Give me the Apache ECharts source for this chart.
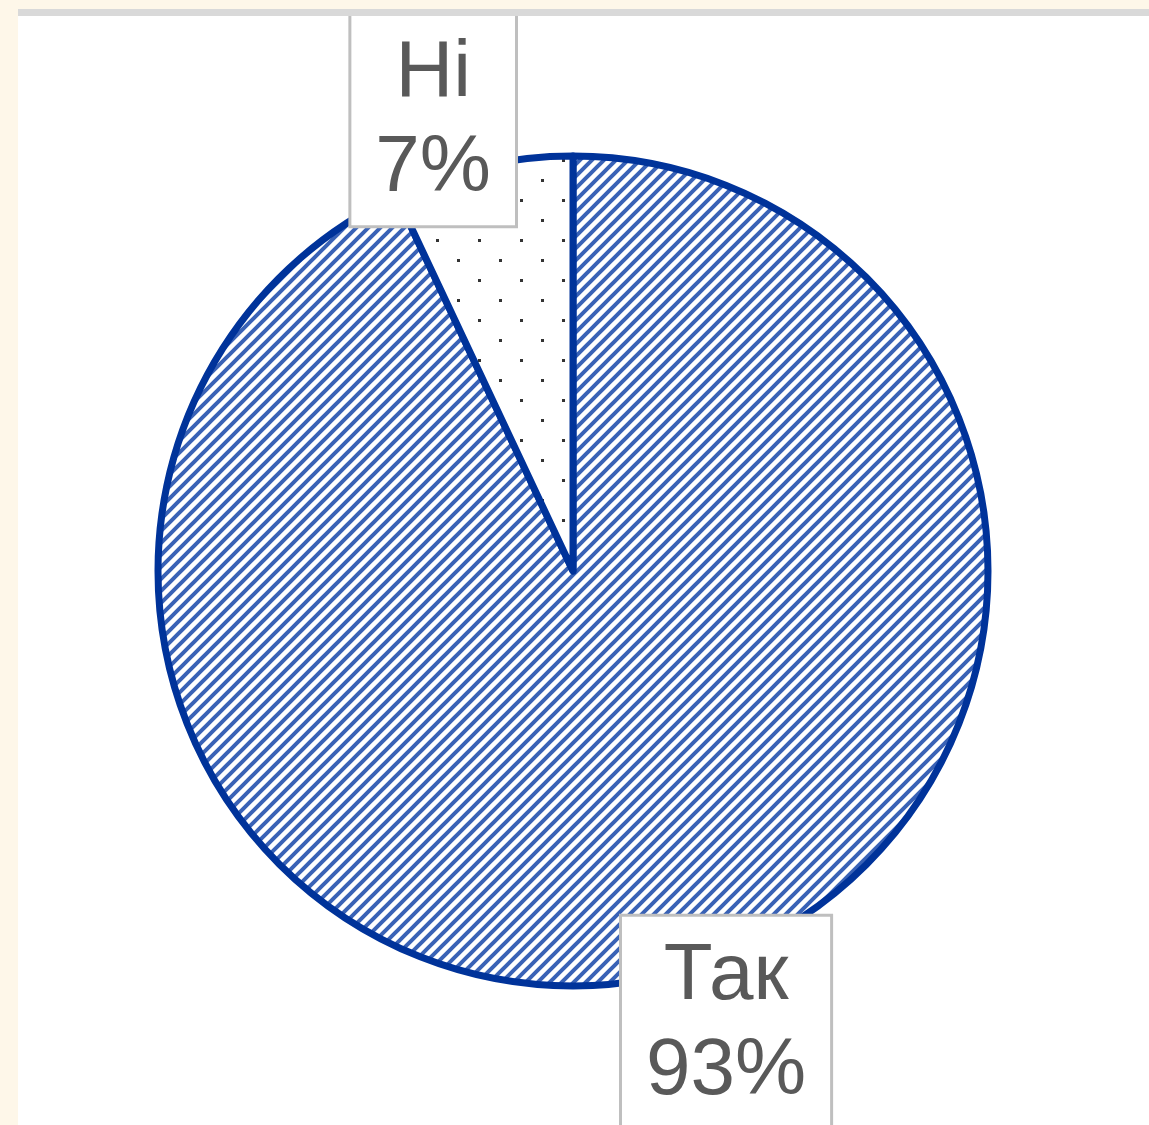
<!DOCTYPE html>
<html>
<head>
<meta charset="utf-8">
<title>Так / Ні</title>
<script src="https://cdn.jsdelivr.net/npm/echarts@6/dist/echarts.min.js"></script>
<style>
  html, body { margin: 0; padding: 0; width: 1149px; height: 1125px; overflow: hidden; background: #fef7e9; }
  #frame {
    position: absolute; left: 18px; top: 9px; width: 1131px; height: 1116px;
    box-sizing: border-box; border-top: 7px solid #d9d9d9; background: #fff; overflow: hidden;
  }
  /* chart is taller than the frame so the labels can run past the clipped edges */
  #chart { position: absolute; left: -18px; top: -116px; width: 1149px; height: 1325px; }
</style>
</head>
<body>
<div id="frame"><div id="chart"></div></div>
<script>
const categories = ['Так', 'Ні']
const shares = [93, 7]

// hatched fill: blue diagonal stripes on white
function stripePattern() {
  const s = 12
  const c = document.createElement('canvas')
  c.width = s
  c.height = s
  const ctx = c.getContext('2d')
  ctx.fillStyle = '#fff'
  ctx.fillRect(0, 0, s, s)
  ctx.strokeStyle = '#3962b6'
  ctx.lineWidth = 4
  ctx.beginPath()
  ctx.moveTo(0, s); ctx.lineTo(s, 0)
  ctx.moveTo(-3, 3); ctx.lineTo(3, -3)
  ctx.moveTo(s - 3, s + 3); ctx.lineTo(s + 3, s - 3)
  ctx.stroke()
  return c
}

// sparse staggered dots on white
function dotPattern() {
  const c = document.createElement('canvas')
  c.width = 42
  c.height = 40
  const ctx = c.getContext('2d')
  ctx.fillStyle = '#fff'
  ctx.fillRect(0, 0, 42, 40)
  ctx.fillStyle = '#333'
  ctx.fillRect(16, 19, 3, 3)
  ctx.fillRect(37, 0, 3, 2)
  ctx.fillRect(37, 39, 3, 1)
  return c
}

// per-slice look; labelLine lengths only steer where the (hidden-line) labels sit
const sliceStyles = [
  { fill: stripePattern(), labelLine: { show: false, length: 48, length2: -57 } },
  { fill: dotPattern(), labelLine: { show: false, length: 48, length2: -48 } },
]

const pieData = categories.map((name, i) => ({
  name: name,
  value: shares[i],
  itemStyle: { color: { image: sliceStyles[i].fill, repeat: 'repeat' } },
  labelLine: sliceStyles[i].labelLine,
}))

const chart = echarts.init(document.getElementById('chart'))

const labelText = {
  align: 'center',
  fontFamily: 'Liberation Sans, Arial, sans-serif',
  fontSize: 80,
  lineHeight: 95,
  color: '#595959',
}

const option = {
  animation: false,
  backgroundColor: 'transparent',
  series: [
    {
      type: 'pie',
      center: [573, 671],
      radius: [0, 415],
      startAngle: 90,
      clockwise: true,
      avoidLabelOverlap: false,
      itemStyle: {
        borderColor: '#00339a',
        borderWidth: 7,
      },
      label: {
        show: true,
        position: 'outside',
        formatter: '{t|{b}}\n{t|{d}%}',
        fontFamily: 'Liberation Sans, Arial, sans-serif',
        fontSize: 80,
        lineHeight: 95,
        color: '#595959',
        backgroundColor: '#fff',
        borderColor: '#bfbfbf',
        borderWidth: 3,
        padding: [13, 24, 9, 24],
        rich: { t: labelText },
      },
      labelLine: { show: false },
      emphasis: { disabled: true },
      data: pieData,
    },
  ],
}

chart.setOption(option)
</script>
</body>
</html>
